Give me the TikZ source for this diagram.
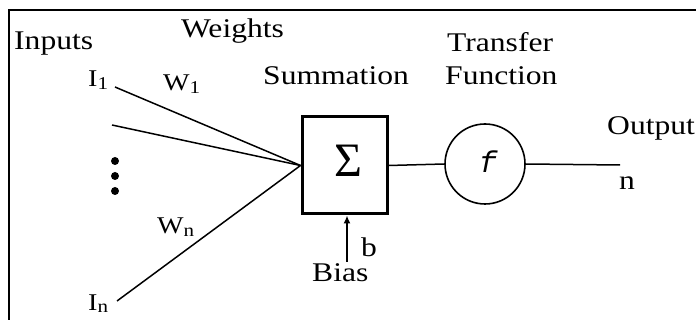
\documentclass[tikz,border=0pt]{standalone}
\usepackage{fontspec}
\setmainfont{Liberation Serif}
\newfontfamily\monof{Liberation Mono}
\usetikzlibrary{arrows.meta}
\newcommand{\widetxt}[1]{\scalebox{1.17}[1]{#1}}
\newcommand{\lowsub}[1]{\raisebox{-2.5pt}{\fontsize{18}{20}\selectfont #1}}
\begin{document}
\begin{tikzpicture}[x=1pt,y=-1pt,
  lbl/.style={anchor=base west,inner sep=0pt,font=\fontsize{27}{30}\selectfont},
  sublbl/.style={anchor=base west,inner sep=0pt,font=\fontsize{24}{26}\selectfont},
  wire/.style={line width=1.5pt},
  dotmark/.style={circle,fill=black,inner sep=0pt,minimum size=8pt}]
\useasboundingbox (0,0) rectangle (696,320);
\fill[white] (0,0) rectangle (696,320);
% frame
\draw[line width=2.2pt] (9,330) -- (9,10) -- (700,10);
% labels
\node[lbl] (inputs) at (14,50) {\widetxt{Inputs}};
\node[lbl] (weights) at (181,38) {\widetxt{Weights}};
\node[lbl] (summ) at (263,85) {\widetxt{Summation}};
\node[lbl] (transfer) at (447,52) {\widetxt{Transfer}};
\node[lbl] (function) at (445,85) {\widetxt{Function}};
\node[lbl] (output) at (607,135) {\widetxt{Output}};
\node[lbl] (nlbl) at (619,190) {\widetxt{n}};
\node[lbl] (blbl) at (361,257) {\widetxt{b}};
\node[lbl] (bias) at (312,282) {\widetxt{Bias}};
\node[sublbl] (i1lbl) at (88,87) {\widetxt{I\lowsub{1}}};
\node[sublbl] (w1lbl) at (163,91) {\widetxt{W\lowsub{1}}};
\node[sublbl] (wnlbl) at (157,234) {\widetxt{W\lowsub{n}}};
\node[sublbl] (inlbl) at (88,310) {\widetxt{I\lowsub{n}}};
% summation box
\node[draw,line width=3pt,minimum width=85pt,minimum height=97pt,inner sep=0pt] (sum) at (344.5,165.5) {};
\node[anchor=base,inner sep=0pt,font=\fontsize{48}{50}\selectfont] (sigma) at (348.5,177) {Σ};
% transfer circle
\node[draw,circle,line width=1.6pt,minimum size=80pt,inner sep=0pt] (tf) at (485,164) {};
\node[anchor=base,inner sep=0pt,font=\monof\itshape\fontsize{30}{32}\selectfont] (fsym) at (488,173) {f};
% inputs
\coordinate (i1) at (115,87);
\coordinate (i2) at (112,125);
\coordinate (in) at (117,301);
\coordinate (bstart) at (347,262);
\coordinate (out) at (620,165);
\draw[wire] (i1) -- (sum.west);
\draw[wire] (i2) -- (sum.west);
\draw[wire] (in) -- (sum.west);
\draw[wire] (sum.east) -- (tf.west);
\draw[wire] (tf.east) -- (out);
\draw[wire,-{Latex[length=8pt,width=7pt]}] (bstart) -- (bstart |- sum.south);
% dots
\node[dotmark] (d1) at (115,161) {};
\node[dotmark] (d2) at (115,176) {};
\node[dotmark] (d3) at (115,191) {};
\end{tikzpicture}
\end{document}
